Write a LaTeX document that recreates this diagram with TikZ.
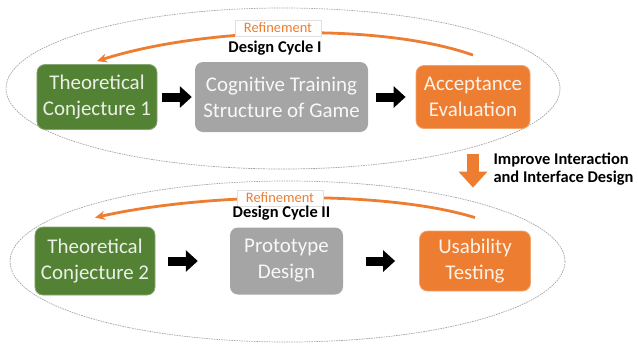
\documentclass[tikz,border=0pt]{standalone}
\usepackage{fontspec}
\setmainfont{Carlito}
\usepackage{xcolor}
\definecolor{cyclegreen}{RGB}{84,130,53}
\definecolor{cyclegray}{RGB}{165,165,165}
\definecolor{cycleorange}{RGB}{237,125,49}
\definecolor{loopgray}{RGB}{165,165,165}
\usetikzlibrary{arrows.meta,calc}

\tikzset{
  stagebox/.style={rounded corners=8bp,align=center,inner sep=0pt,
    font=\fontsize{21}{26}\selectfont},
  theory/.style={stagebox,fill=cyclegreen,text=cyclegreen!12,draw=cyclegreen!70!white,line width=0.8bp},
  build/.style={stagebox,fill=cyclegray,text=white!92!cyclegray},
  check/.style={stagebox,fill=cycleorange,text=cycleorange!10,draw=cycleorange!70!white,line width=0.8bp},
  cycleloop/.style={draw=loopgray,line width=0.7bp,dash pattern=on 1.6bp off 0.9bp},
  blkarrow/.style={line width=9bp,-{Triangle[length=12bp,width=21bp]}},
  refine/.style={draw=cycleorange,line width=2.8bp,-{Stealth[length=10bp,width=9bp]}},
  refinelabel/.style={fill=white,draw=black!12,text=cycleorange,inner xsep=9bp,inner ysep=3bp,
    font=\fontsize{14.5}{16}\selectfont},
  cyclelabel/.style={font=\fontsize{16.5}{18}\selectfont\bfseries},
  improvearrow/.style={draw=cycleorange,line width=12bp,-{Triangle[length=16bp,width=28bp]}},
}

\begin{document}
\begin{tikzpicture}[x=1bp,y=-1bp]
  \useasboundingbox (0,0) rectangle (638,345);

  %% Dotted loops around both cycles
  \draw[cycleloop] (283,88.5) ellipse [x radius=277bp,y radius=80.5bp];
  \draw[cycleloop] (287.5,261.5) ellipse [x radius=277.5bp,y radius=80.5bp];

  %% Cycle I
  \node[theory,minimum width=120bp,minimum height=65bp] (conj1) at (97,97) {Theoretical\\Conjecture 1};
  \node[build,minimum width=173bp,minimum height=70bp] (game) at (281.5,97) {Cognitive Training\\Structure of Game};
  \node[check,minimum width=114bp,minimum height=63bp] (accept) at (473,97) {Acceptance\\Evaluation};

  \draw[blkarrow,shorten <=5bp,shorten >=3bp] (conj1) -- (game);
  \draw[blkarrow,shorten <=8bp,shorten >=10bp] (game) -- (accept);

  \draw[refine] ([yshift=10bp]accept.north) .. controls +(-90,-32) and +(110,-35) .. ([yshift=3bp]conj1.north);
  \node[refinelabel] (ref1) at (278,28) {Refinement};
  \node[cyclelabel] (cyc1) at (275,48) {Design Cycle I};

  %% Cycle II
  \node[theory,minimum width=120bp,minimum height=68bp] (conj2) at (95,261) {Theoretical\\Conjecture 2};
  \node[build,minimum width=113bp,minimum height=67bp] (proto) at (286.5,261) {Prototype\\Design};
  \node[check,minimum width=111bp,minimum height=60bp] (usab) at (475,261) {Usability\\Testing};

  \draw[blkarrow,shorten <=13bp,shorten >=32bp] (conj2) -- (proto);
  \draw[blkarrow,shorten <=23bp,shorten >=24bp] (proto) -- (usab);

  \draw[refine] ([yshift=13bp]usab.north) .. controls +(-90,-28) and +(110,-25) .. ([yshift=9bp]conj2.north);
  \node[refinelabel] (ref2) at (280,198) {Refinement};
  \node[cyclelabel] (cyc2) at (281.5,213) {Design Cycle II};

  %% Step from cycle I to cycle II
  \draw[improvearrow,shorten <=25bp,shorten >=43bp] (accept.south) -- (accept.south |- usab.north);
  \node[cyclelabel,anchor=west,align=left] (improve) at (490,169) {Improve Interaction\\and Interface Design};
\end{tikzpicture}
\end{document}
